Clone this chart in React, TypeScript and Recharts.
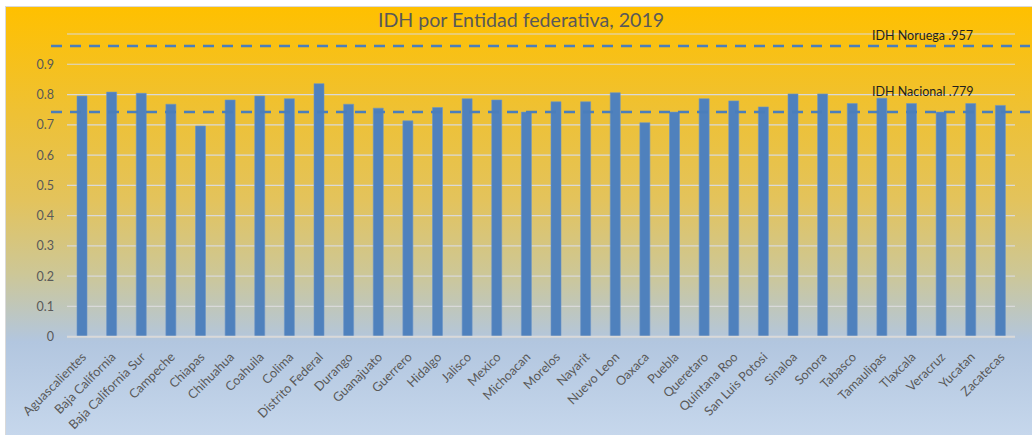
import React from 'react';
import { BarChart, Bar, XAxis, YAxis, CartesianGrid, ReferenceLine } from 'recharts';

const entidades = [
  'Aguascalientes', 'Baja California', 'Baja California Sur', 'Campeche', 'Chiapas', 'Chihuahua',
  'Coahuila', 'Colima', 'Distrito Federal', 'Durango', 'Guanajuato', 'Guerrero', 'Hidalgo',
  'Jalisco', 'Mexico', 'Michoacan', 'Morelos', 'Nayarit', 'Nuevo Leon', 'Oaxaca', 'Puebla',
  'Queretaro', 'Quintana Roo', 'San Luis Potosi', 'Sinaloa', 'Sonora', 'Tabasco', 'Tamaulipas',
  'Tlaxcala', 'Veracruz', 'Yucatan', 'Zacatecas',
];

const idh = [
  0.795, 0.808, 0.804, 0.768, 0.696, 0.782,
  0.795, 0.786, 0.836, 0.768, 0.755, 0.713, 0.757,
  0.786, 0.782, 0.742, 0.776, 0.776, 0.806, 0.707, 0.742,
  0.786, 0.779, 0.759, 0.802, 0.802, 0.770, 0.788,
  0.770, 0.742, 0.770, 0.764,
];

const ticksY = [0, 0.1, 0.2, 0.3, 0.4, 0.5, 0.6, 0.7, 0.8, 0.9];

// lineas de referencia (posicion dibujada) y sus etiquetas
const lineaNoruega = 0.96;
const lineaNacional = 0.742;
const etiquetaNoruega = 'IDH Noruega .957';
const etiquetaNacional = 'IDH Nacional .779';

const data = entidades.map((nombre, i) => ({ nombre, IDH: idh[i] }));

const fuente = 'Lato, "Open Sans", sans-serif';
const azul = '#4F81BD';

const TickEntidad = ({ x, y, payload }: any) => (
  <g transform={`translate(${x + 2},${y + 10})`}>
    <text transform="rotate(-45)" textAnchor="end" dy="0.35em" fill="#595959" fontSize={12.7} fontFamily={fuente}>
      {payload.value}
    </text>
  </g>
);

const lineaConEtiqueta = (texto: string, subir: number) => (props: any) => {
  const { x1, y1, x2 } = props;
  return (
    <g>
      <line x1={x1 - 16} y1={y1} x2={x2 + 15} y2={y1} stroke="#4A7EBB" strokeWidth={2.5} strokeDasharray="11 8" />
      <text x={x2 - 143} y={y1 - subir} fill="#1F1F1F" fontSize={12.5} fontFamily={fuente}>{texto}</text>
    </g>
  );
};

export default function App() {
  return (
    <div style={{ position: 'absolute', left: 0, top: 0, width: 1032, height: 435, background: '#fff', overflow: 'hidden' }}>
      <div
        style={{
          position: 'absolute', left: 5, top: 6, width: 1027, height: 429,
          borderLeft: '1px solid #D9D9D9', borderTop: '1px solid #D9D9D9',
          background: 'linear-gradient(to bottom, #FFC000 0%, #EEC135 25%, #E3C35C 45%, #CDC796 62%, #B2C6DF 78%, #C6D7EC 100%)',
        }}
      />
      <div
        style={{
          position: 'absolute', left: 8, top: 8, width: 1026, textAlign: 'center',
          fontFamily: fuente, fontSize: 19.6, color: '#595959',
        }}
      >
        IDH por Entidad federativa, 2019
      </div>
      <div style={{ position: 'absolute', left: 0, top: 0 }}>
        <BarChart width={1032} height={435} data={data} margin={{ top: 34, right: 17, left: 0, bottom: 0 }} barSize={10}>
          <CartesianGrid vertical={false} stroke="#D9D9D9" strokeWidth={1.2} />
          <XAxis
            dataKey="nombre"
            interval={0}
            tick={<TickEntidad />}
            tickLine={false}
            axisLine={{ stroke: '#D9D9D9', strokeWidth: 2 }}
            height={98.3}
          />
          <YAxis
            domain={[0, 1]}
            ticks={ticksY}
            interval={0}
            width={67}
            tickLine={false}
            axisLine={false}
            tickMargin={7}
            tick={{ fill: '#595959', fontSize: 12.5, fontFamily: fuente }}
          />
          <Bar dataKey="IDH" fill={azul} stroke="#6C95C8" strokeWidth={0.6} isAnimationActive={false} />
          <ReferenceLine y={lineaNoruega} shape={lineaConEtiqueta(etiquetaNoruega, 6)} />
          <ReferenceLine y={lineaNacional} shape={lineaConEtiqueta(etiquetaNacional, 16)} />
        </BarChart>
      </div>
    </div>
  );
}
